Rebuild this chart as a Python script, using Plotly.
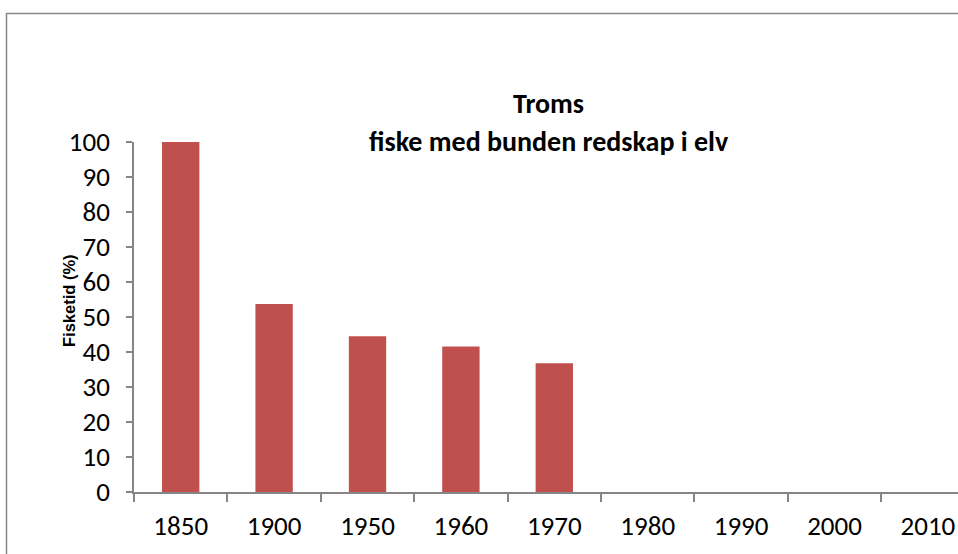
import plotly.graph_objects as go

years = ["1850", "1900", "1950", "1960", "1970", "1980", "1990", "2000", "2010"]
fisketid = [100, 53.7, 44.5, 41.6, 36.8, 0, 0, 0, 0]
y_ticks = [0, 10, 20, 30, 40, 50, 60, 70, 80, 90, 100]
title_lines = ["Troms", "fiske med bunden redskap i elv"]
y_title = "Fisketid (%)"

W, H = 958, 554
L, R, T, B = 134, 0, 142, 62
pw = W - L - R
ph = H - T - B
cat_px = 93.4


def px_x(fx):
    return (fx - L) / pw


def px_y(fy):
    return (H - B - fy) / ph


font_family = "Carlito, Calibri, Lato, 'Open Sans', sans-serif"

fig = go.Figure(go.Bar(
    x=years, y=fisketid, width=0.4,
    marker=dict(color="#C0504D", line=dict(width=0)),
))

fig.update_layout(
    width=W, height=H,
    margin=dict(l=L, r=R, t=T, b=B, pad=0),
    paper_bgcolor="white", plot_bgcolor="white",
    showlegend=False,
    font=dict(family=font_family, color="#000000", size=27),
    xaxis=dict(
        type="category",
        range=[-0.5, -0.5 + pw / cat_px],
        showline=True, linecolor="#868686", linewidth=1.5,
        ticks="outside", tickson="boundaries", ticklen=8, tickcolor="#868686", tickwidth=1.5,
        showgrid=False, zeroline=False,
        tickfont=dict(size=27),
        ticklabelstandoff=9,
    ),
    yaxis=dict(
        range=[0, 100],
        tickvals=y_ticks,
        showline=True, linecolor="#868686", linewidth=1.5,
        ticks="outside", ticklen=6, tickcolor="#868686", tickwidth=1.5,
        showgrid=False, zeroline=False,
        tickfont=dict(size=27),
        ticklabelstandoff=11,
    ),
)

# title (two lines)
fig.add_annotation(
    text="<b>%s</b>" % title_lines[0], xref="paper", yref="paper",
    x=px_x(548), y=px_y(103), xanchor="center", yanchor="middle",
    showarrow=False, font=dict(size=28, family=font_family),
)
fig.add_annotation(
    text="<b>%s</b>" % title_lines[1], xref="paper", yref="paper",
    x=px_x(549), y=px_y(141), xanchor="center", yanchor="middle",
    showarrow=False, font=dict(size=28, family=font_family),
)
# y-axis title
fig.add_annotation(
    text="<b>%s</b>" % y_title, xref="paper", yref="paper",
    x=px_x(69), y=px_y(301), xanchor="center", yanchor="middle",
    textangle=-90, showarrow=False,
    font=dict(size=16.5, family="'Liberation Sans Narrow', 'Arial Narrow', sans-serif"),
)

# outer chart border (gray frame)
fig.add_shape(
    type="rect", xref="paper", yref="paper",
    x0=px_x(6.5), x1=px_x(W + 5),
    y0=px_y(H + 5), y1=px_y(13.5),
    line=dict(color="#878787", width=1.5), fillcolor="rgba(0,0,0,0)", layer="below",
)

fig.write_html(
    "out.html",
    config={"displayModeBar": False},
    post_script="document.body.style.margin='0px';document.body.style.overflow='hidden';",
)
